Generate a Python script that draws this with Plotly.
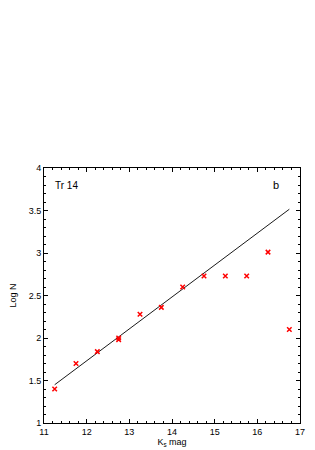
import plotly.graph_objects as go

kmag = [11.25, 11.75, 12.25, 12.75, 12.75, 13.25, 13.75, 14.25, 14.75, 15.25, 15.75, 16.25, 16.75]
logn = [1.40, 1.70, 1.84, 1.98, 2.00, 2.28, 2.36, 2.60, 2.73, 2.73, 2.73, 3.01, 2.10]
fit_x = [11.25, 16.75]
fit_y = [1.45, 3.515]

fig = go.Figure()
fig.add_trace(go.Scatter(x=fit_x, y=fit_y, mode="lines",
                         line=dict(color="black", width=0.9), showlegend=False))
fig.add_trace(go.Scatter(x=kmag, y=logn, mode="markers",
                         marker=dict(symbol="x-thin", size=4.5, color="red",
                                     line=dict(color="red", width=1.5)),
                         showlegend=False))

font = dict(family="Liberation Sans, Arial, sans-serif", size=9, color="#000000")
axcommon = dict(showgrid=False, zeroline=False, showline=True, linecolor="black",
                linewidth=1, mirror="ticks", ticks="inside", ticklen=4,
                tickcolor="black", tickfont=font, automargin=False,
                ticklabeloverflow="allow")
fig.update_xaxes(range=[11, 17], dtick=1, tick0=11,
                 minor=dict(ticks="inside", ticklen=2, dtick=0.2, tickcolor="black"),
                 title=dict(text="K<sub>s</sub> mag", font=font, standoff=0), **axcommon)
fig.update_yaxes(range=[1, 4], dtick=0.5, tick0=1,
                 minor=dict(ticks="inside", ticklen=2, dtick=0.1, tickcolor="black"),
                 title=dict(text="Log N", font=font, standoff=12), **axcommon)

fig.add_annotation(x=0.035, y=0.933, xref="paper", yref="paper", text="Tr 14",
                   showarrow=False, xanchor="left", yanchor="middle",
                   font=dict(family="Liberation Sans, Arial, sans-serif", size=10, color="#000000"))
fig.add_annotation(x=0.927, y=0.933, xref="paper", yref="paper", text="b",
                   showarrow=False, xanchor="right", yanchor="middle",
                   font=dict(family="Liberation Sans, Arial, sans-serif", size=11, color="#000000"))

fig.update_layout(width=307, height=442, margin=dict(l=36, r=15, t=160, b=27),
                  plot_bgcolor="white", paper_bgcolor="white", font=font)
fig.write_html("out.html")
